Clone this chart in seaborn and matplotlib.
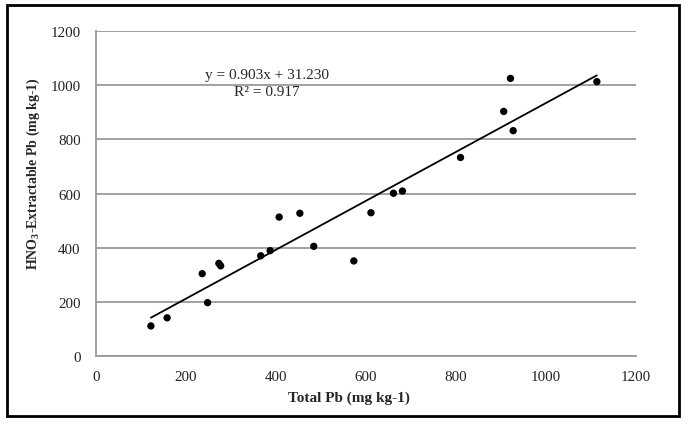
import numpy as np
import pandas as pd
import seaborn as sns
import matplotlib.pyplot as plt
from matplotlib.patches import Rectangle

# Datos
total_pb = [122, 158, 236, 248, 273, 277, 366, 387, 407, 453, 484, 573, 611,
            661, 681, 810, 906, 921, 927, 1113]
hno3_pb = [111, 141, 304, 197, 342, 333, 370, 389, 513, 527, 405, 351, 529,
           601, 609, 733, 903, 1025, 832, 1013]

pendiente = 0.903
intercepto = 31.230
r2 = 0.917

df = pd.DataFrame({"total": total_pb, "hno3": hno3_pb})
x_tend = np.array([min(total_pb), max(total_pb)])
df_tend = pd.DataFrame({"total": x_tend, "hno3": pendiente * x_tend + intercepto})

sns.set_style("white")
plt.rcParams["font.family"] = ["Liberation Serif", "DejaVu Serif"]
plt.rcParams["mathtext.fontset"] = "custom"
plt.rcParams["mathtext.rm"] = "Liberation Serif"
plt.rcParams["mathtext.bf"] = "Liberation Serif:bold"

fig = plt.figure(figsize=(6.89, 4.27), dpi=100)
ax = fig.add_axes([96 / 689, 70 / 427, 540 / 689, 325 / 427])

gris = "#9a9a9a"
ax.set_axisbelow(True)
ax.yaxis.grid(True, color=gris, linewidth=1.3)
ax.xaxis.grid(False)

sns.lineplot(data=df_tend, x="total", y="hno3", color="black", linewidth=1.3, ax=ax)
sns.scatterplot(data=df, x="total", y="hno3", color="black", s=28, edgecolor="none", ax=ax, zorder=3)

ax.set_xlim(0, 1200)
ax.set_ylim(0, 1200)
ax.set_xticks(range(0, 1201, 200))
ax.set_yticks(range(0, 1201, 200))
ax.tick_params(axis="both", direction="inout", length=6, width=1, color=gris,
               labelsize=10.8, labelcolor="#222222")
ax.tick_params(axis="y", pad=8)
ax.tick_params(axis="x", pad=7)

for lado in ["top", "right"]:
    ax.spines[lado].set_visible(False)
for lado in ["left", "bottom"]:
    ax.spines[lado].set_color(gris)
    ax.spines[lado].set_linewidth(1.3)

ax.set_xlabel("Total Pb (mg kg-1)", fontsize=11, fontweight="bold")
ax.set_ylabel(r"HNO$_\mathbf{3}$-Extractable Pb (mg kg-1)", fontsize=10, fontweight="bold")
ax.xaxis.set_label_coords(0.469, -0.105)
ax.yaxis.set_label_coords(-0.10, 0.566)

ax.text(380, 1041, f"y = {pendiente:.3f}x + {intercepto:.3f}", ha="center", va="center", fontsize=11)
ax.text(380, 975, f"R² = {r2:.3f}", ha="center", va="center", fontsize=11)

# Marco exterior
fig.patches.append(Rectangle((7 / 689, 10 / 427), 672 / 689, 411 / 427, fill=False,
                             edgecolor="black", linewidth=2, transform=fig.transFigure))

plt.savefig("out.png", dpi=100)
